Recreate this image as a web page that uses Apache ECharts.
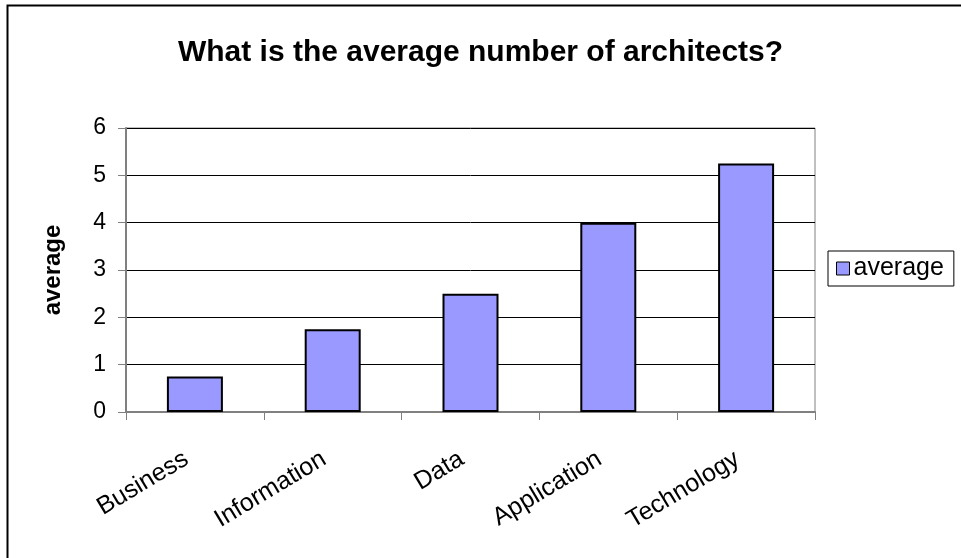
<!DOCTYPE html>
<html><head><meta charset="utf-8">
<script src="https://cdn.jsdelivr.net/npm/echarts@6/dist/echarts.min.js"></script>
<style>html,body{margin:0;padding:0;background:#fff}#c{width:961px;height:558px}</style>
</head><body><div id="c"></div>
<script>
const categories = ['Business', 'Information', 'Data', 'Application', 'Technology'];
const averageValues = [0.75, 1.75, 2.5, 4, 5.25];
const yTicks = [0, 1, 2, 3, 4, 5, 6];
const titleText = 'What is the average number of architects?';
const seriesName = 'average';

const chart = echarts.init(document.getElementById('c'), null, {renderer: 'canvas'});
const font = 'Liberation Sans, Arial, sans-serif';
chart.setOption({
  animation: false,
  backgroundColor: '#fff',
  textStyle: {fontFamily: font},
  title: {
    text: titleText, left: 'center', top: 33,
    textStyle: {fontFamily: font, fontSize: 30, fontWeight: 'bold', color: '#000'}
  },
  graphic: [{
    type: 'rect', shape: {x: 7.5, y: 5.5, width: 1000, height: 600},
    style: {fill: 'none', stroke: '#000', lineWidth: 2}, z: -1
  }],
  legend: {
    data: [seriesName], left: 828, top: 251, orient: 'vertical',
    padding: [5, 10, 5, 8], itemWidth: 13, itemHeight: 13, itemGap: 4,
    borderColor: '#000', borderWidth: 1,
    textStyle: {fontFamily: font, fontSize: 25, color: '#000', padding: [0, 0, 0, -1]},
    icon: 'rect',
    itemStyle: {borderColor: '#000', borderWidth: 1}
  },
  grid: {left: 126, top: 128, width: 689, height: 284, containLabel: false,
         show: true, borderColor: '#808080', borderWidth: 1},
  xAxis: {
    type: 'category', data: categories,
    boundaryGap: true,
    axisLine: {lineStyle: {color: '#808080', width: 2}},
    axisTick: {show: true, length: 8, alignWithLabel: false, lineStyle: {color: '#808080'}},
    axisLabel: {rotate: 31, fontFamily: font, fontSize: 25, color: '#000', margin: 40,
                padding: [0, 10, 0, 0], interval: 0},
    splitLine: {show: false}
  },
  yAxis: {
    type: 'value', min: yTicks[0], max: yTicks[yTicks.length - 1], interval: 1,
    name: seriesName, nameLocation: 'middle', nameGap: 61, nameRotate: 90,
    nameTextStyle: {fontFamily: font, fontSize: 24, fontWeight: 'bold', color: '#000',
                    padding: [0, 0, 0, 0]},
    axisLine: {show: true, lineStyle: {color: '#808080', width: 2}},
    axisTick: {show: true, length: 8, lineStyle: {color: '#808080'}},
    axisLabel: {fontFamily: font, fontSize: 23, color: '#000', margin: 20},
    splitLine: {show: true, lineStyle: {color: '#000', width: 1}}
  },
  series: [{
    name: seriesName, type: 'bar', data: averageValues,
    barWidth: 56,
    itemStyle: {color: '#9999ff', borderColor: '#000', borderWidth: 2}
  }]
});
</script></body></html>
